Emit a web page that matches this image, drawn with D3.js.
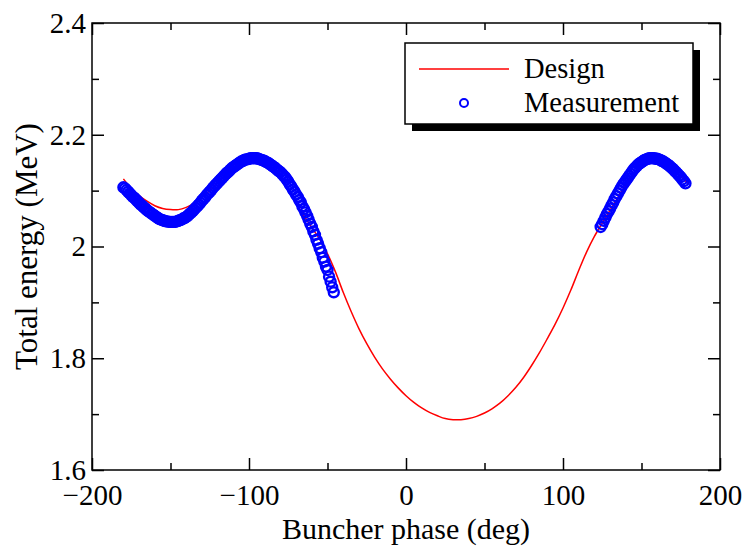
<!DOCTYPE html>
<html>
<head>
<meta charset="utf-8">
<script src="https://cdn.jsdelivr.net/npm/d3@7"></script>
<style>
  body { margin: 0; background: #fff; }
  svg text { font-family: "Liberation Serif", "Times New Roman", Times, "DejaVu Serif", serif; fill: #000; }
</style>
</head>
<body>
<script>
// design curve: [phase (deg), total energy (MeV)]
var designCurve = [
  [-180, 2.121], [-175, 2.104], [-170, 2.091], [-165, 2.081], [-160, 2.073], [-155, 2.068],
  [-150, 2.066], [-145, 2.066], [-140, 2.070], [-135, 2.077], [-130, 2.087], [-125, 2.100],
  [-120, 2.114], [-115, 2.128], [-110, 2.141], [-105, 2.151], [-100, 2.156], [-95, 2.156],
  [-90, 2.150], [-85, 2.138], [-80, 2.121], [-75, 2.100], [-70, 2.078], [-65, 2.055],
  [-60, 2.034], [-55, 2.013], [-50, 1.987], [-45, 1.955], [-40, 1.918], [-35, 1.884],
  [-30, 1.853], [-25, 1.826], [-20, 1.802], [-15, 1.781], [-10, 1.763], [-5, 1.747],
  [0, 1.733], [5, 1.721], [10, 1.711], [15, 1.703], [20, 1.697], [25, 1.692],
  [30, 1.690], [35, 1.690], [40, 1.692], [45, 1.696], [50, 1.702], [55, 1.710],
  [60, 1.720], [65, 1.733], [70, 1.748], [75, 1.766], [80, 1.787], [85, 1.810],
  [90, 1.835], [95, 1.861], [100, 1.890], [105, 1.922], [110, 1.957], [115, 1.990],
  [120, 2.018], [125, 2.042], [130, 2.065], [135, 2.088], [140, 2.110], [145, 2.129],
  [150, 2.144], [155, 2.153], [160, 2.155], [165, 2.149], [170, 2.139], [175, 2.126],
  [180, 2.112]
];

// measured points, first scan (-180 .. -46 deg)
var measurementLeft = [
  [-180, 2.106], [-179, 2.104], [-178, 2.101], [-177, 2.098], [-176, 2.095], [-175, 2.092],
  [-174, 2.089], [-173, 2.087], [-172, 2.084], [-171, 2.081], [-170, 2.078], [-169, 2.075],
  [-168, 2.073], [-167, 2.070], [-166, 2.068], [-165, 2.065], [-164, 2.063], [-163, 2.061],
  [-162, 2.059], [-161, 2.057], [-160, 2.055], [-159, 2.053], [-158, 2.051], [-157, 2.049],
  [-156, 2.048], [-155, 2.047], [-154, 2.046], [-153, 2.045], [-152, 2.045], [-151, 2.044],
  [-150, 2.044], [-149, 2.044], [-148, 2.044], [-147, 2.044], [-146, 2.045], [-145, 2.046],
  [-144, 2.047], [-143, 2.048], [-142, 2.050], [-141, 2.051], [-140, 2.053], [-139, 2.055],
  [-138, 2.058], [-137, 2.060], [-136, 2.063], [-135, 2.066], [-134, 2.069], [-133, 2.072],
  [-132, 2.075], [-131, 2.078], [-130, 2.082], [-129, 2.085], [-128, 2.088], [-127, 2.092],
  [-126, 2.095], [-125, 2.098], [-124, 2.101], [-123, 2.105], [-122, 2.108], [-121, 2.111],
  [-120, 2.114], [-119, 2.117], [-118, 2.120], [-117, 2.123], [-116, 2.126], [-115, 2.129],
  [-114, 2.132], [-113, 2.134], [-112, 2.137], [-111, 2.140], [-110, 2.142], [-109, 2.144],
  [-108, 2.146], [-107, 2.148], [-106, 2.150], [-105, 2.152], [-104, 2.153], [-103, 2.155],
  [-102, 2.156], [-101, 2.156], [-100, 2.157], [-99, 2.158], [-98, 2.158], [-97, 2.158],
  [-96, 2.158], [-95, 2.158], [-94, 2.157], [-93, 2.156], [-92, 2.155], [-91, 2.154],
  [-90, 2.153], [-89, 2.151], [-88, 2.150], [-87, 2.148], [-86, 2.146], [-85, 2.144],
  [-84, 2.142], [-83, 2.140], [-82, 2.137], [-81, 2.135], [-80, 2.133], [-79, 2.130],
  [-78, 2.127], [-77, 2.124], [-76, 2.120], [-75, 2.116], [-74, 2.111], [-73, 2.107],
  [-72, 2.102], [-71, 2.098], [-70, 2.093], [-69, 2.089], [-68, 2.083], [-67, 2.079],
  [-66, 2.072], [-65, 2.067], [-64, 2.061], [-63, 2.055], [-62, 2.048], [-61, 2.041],
  [-60, 2.035], [-59, 2.027], [-58, 2.021], [-57, 2.012], [-56, 2.005], [-55, 1.997],
  [-54, 1.990], [-53, 1.980], [-52, 1.973], [-51, 1.964], [-50, 1.958], [-49, 1.946],
  [-48, 1.937], [-47, 1.927], [-46, 1.918]
];

// measured points, second scan (124 .. 178 deg)
var measurementRight = [
  [124, 2.035], [125, 2.040], [126, 2.046], [127, 2.052], [128, 2.058], [129, 2.063],
  [130, 2.068], [131, 2.074], [132, 2.079], [133, 2.085], [134, 2.090], [135, 2.095],
  [136, 2.100], [137, 2.105], [138, 2.110], [139, 2.114], [140, 2.118], [141, 2.122],
  [142, 2.126], [143, 2.130], [144, 2.134], [145, 2.138], [146, 2.141], [147, 2.144],
  [148, 2.147], [149, 2.149], [150, 2.151], [151, 2.153], [152, 2.155], [153, 2.156],
  [154, 2.157], [155, 2.158], [156, 2.158], [157, 2.158], [158, 2.158], [159, 2.157],
  [160, 2.157], [161, 2.156], [162, 2.155], [163, 2.153], [164, 2.152], [165, 2.150],
  [166, 2.148], [167, 2.146], [168, 2.144], [169, 2.141], [170, 2.139], [171, 2.136],
  [172, 2.133], [173, 2.130], [174, 2.127], [175, 2.124], [176, 2.120], [177, 2.117],
  [178, 2.113]
];

var xTicks = [-200, -100, 0, 100, 200];
var xMinorTicks = [-150, -50, 50, 150];
var yTicks = [1.6, 1.8, 2, 2.2, 2.4];
var yMinorTicks = [1.7, 1.9, 2.1, 2.3];
var legendLabels = ["Design", "Measurement"];

var serif = "'Liberation Serif', 'Times New Roman', Times, 'DejaVu Serif', serif";

var margin = { top: 23, right: 25, bottom: 78, left: 92 },
    width = 745 - margin.left - margin.right,
    height = 548 - margin.top - margin.bottom;

var x = d3.scaleLinear().domain([-200, 200]).range([0, width]);
var y = d3.scaleLinear().domain([1.6, 2.4]).range([height, 0]);

var svg = d3.select("body").append("svg")
  .attr("width", 745)
  .attr("height", 548)
  .style("font-family", serif);

var g = svg.append("g")
  .attr("transform", "translate(" + margin.left + "," + margin.top + ")");

// design line
var line = d3.line()
  .curve(d3.curveCatmullRom)
  .x(function(d) { return x(d[0]); })
  .y(function(d) { return y(d[1]); });

g.append("path")
  .datum(designCurve)
  .attr("fill", "none")
  .attr("stroke", "#ff0000")
  .attr("stroke-width", 1.5)
  .attr("d", line);

// measurement markers (open circles)
g.append("g").selectAll("circle")
  .data(measurementLeft.concat(measurementRight))
  .enter().append("circle")
  .attr("cx", function(d) { return x(d[0]); })
  .attr("cy", function(d) { return y(d[1]); })
  .attr("r", 5)
  .attr("fill", "none")
  .attr("stroke", "#0000ff")
  .attr("stroke-width", 2.4);

// axes: major ticks labelled, minor ticks bare, mirrored on top/right, all inward
function styleAxis(sel) {
  sel.attr("font-family", serif).attr("font-size", 29);
  sel.select(".domain").remove();
  sel.selectAll("line").attr("stroke", "#000").attr("stroke-width", 1.5);
  sel.selectAll("text").attr("fill", "#000");
}

g.append("g")
  .attr("transform", "translate(0," + height + ")")
  .call(d3.axisBottom(x).tickValues(xTicks).tickSizeInner(-12).tickPadding(14).tickFormat(d3.format("d")))
  .call(styleAxis);
g.append("g")
  .attr("transform", "translate(0," + height + ")")
  .call(d3.axisBottom(x).tickValues(xMinorTicks).tickSizeInner(-7).tickFormat(""))
  .call(styleAxis);
g.append("g")
  .call(d3.axisTop(x).tickValues(xTicks).tickSizeInner(-12).tickFormat(""))
  .call(styleAxis);
g.append("g")
  .call(d3.axisTop(x).tickValues(xMinorTicks).tickSizeInner(-7).tickFormat(""))
  .call(styleAxis);

g.append("g")
  .call(d3.axisLeft(y).tickValues(yTicks).tickSizeInner(-12).tickPadding(6).tickFormat(d3.format("~g")))
  .call(styleAxis);
g.append("g")
  .call(d3.axisLeft(y).tickValues(yMinorTicks).tickSizeInner(-7).tickFormat(""))
  .call(styleAxis);
g.append("g")
  .attr("transform", "translate(" + width + ",0)")
  .call(d3.axisRight(y).tickValues(yTicks).tickSizeInner(-12).tickFormat(""))
  .call(styleAxis);
g.append("g")
  .attr("transform", "translate(" + width + ",0)")
  .call(d3.axisRight(y).tickValues(yMinorTicks).tickSizeInner(-7).tickFormat(""))
  .call(styleAxis);

// frame
g.append("rect")
  .attr("width", width)
  .attr("height", height)
  .attr("fill", "none")
  .attr("stroke", "#000")
  .attr("stroke-width", 1.5);

// axis titles
svg.append("text")
  .attr("x", margin.left + width / 2)
  .attr("y", 539)
  .attr("text-anchor", "middle")
  .attr("font-size", 30)
  .text("Buncher phase (deg)");

svg.append("text")
  .attr("transform", "translate(37," + (margin.top + height / 2) + ") rotate(-90)")
  .attr("text-anchor", "middle")
  .attr("font-size", 31)
  .text("Total energy (MeV)");

// legend with drop shadow
var legend = svg.append("g").attr("transform", "translate(405,43)");
legend.append("rect")
  .attr("x", 7).attr("y", 7)
  .attr("width", 288).attr("height", 81)
  .attr("fill", "#000");
legend.append("rect")
  .attr("width", 288).attr("height", 81)
  .attr("fill", "#fff")
  .attr("stroke", "#000")
  .attr("stroke-width", 1.5);
legend.append("line")
  .attr("x1", 14).attr("x2", 104)
  .attr("y1", 26).attr("y2", 26)
  .attr("stroke", "#ff0000")
  .attr("stroke-width", 1.5);
legend.append("circle")
  .attr("cx", 59).attr("cy", 60)
  .attr("r", 4)
  .attr("fill", "none")
  .attr("stroke", "#0000ff")
  .attr("stroke-width", 2);
legend.selectAll("text.lab")
  .data(legendLabels)
  .enter().append("text")
  .attr("class", "lab")
  .attr("x", 119)
  .attr("y", function(d, i) { return 35 + i * 34; })
  .attr("font-size", 28.5)
  .text(function(d) { return d; });
</script>
</body>
</html>
